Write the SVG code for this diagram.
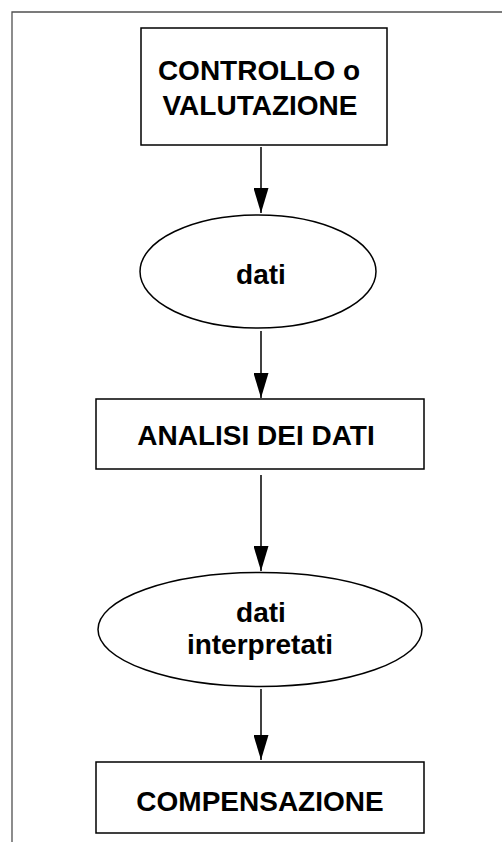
<svg xmlns="http://www.w3.org/2000/svg" width="502" height="842" viewBox="0 0 502 842">
  <style>
    .box { fill: #ffffff; stroke: #000000; stroke-width: 1.5; }
    .lbl { font-family: "Liberation Sans", Arial, sans-serif; font-weight: bold; font-size: 28px; fill: #000000; text-anchor: middle; }
    .conn { stroke: #000000; stroke-width: 1.5; fill: none; marker-end: url(#arrow); }
    .frame { stroke: #505050; stroke-width: 1.3; fill: none; }
  </style>
  <defs>
    <marker id="arrow" viewBox="0 0 25 15" markerWidth="25" markerHeight="15" refX="25" refY="7.5" orient="auto" markerUnits="userSpaceOnUse">
      <path d="M0,0 L25,7.5 L0,15 Z" fill="#000000"/>
    </marker>
  </defs>
  <rect x="0" y="0" width="502" height="842" fill="#ffffff"/>
  <path class="frame" d="M12,842 V12 H502"/>

  <g id="controllo">
    <rect class="box" x="141" y="28" width="246" height="117"/>
    <text class="lbl" x="259" y="80">CONTROLLO o</text>
    <text class="lbl" x="260" y="115">VALUTAZIONE</text>
  </g>

  <g id="dati">
    <ellipse class="box" cx="258" cy="271.5" rx="118" ry="56.5"/>
    <text class="lbl" x="261" y="284">dati</text>
  </g>

  <g id="analisi">
    <rect class="box" x="96" y="399" width="328" height="70"/>
    <text class="lbl" x="256" y="445">ANALISI DEI DATI</text>
  </g>

  <g id="dati-interpretati">
    <ellipse class="box" cx="260" cy="629.5" rx="162" ry="57"/>
    <text class="lbl" x="261" y="622">dati</text>
    <text class="lbl" x="260" y="654">interpretati</text>
  </g>

  <g id="compensazione">
    <rect class="box" x="96" y="762" width="328" height="71"/>
    <text class="lbl" x="260" y="811">COMPENSAZIONE</text>
  </g>

  <g id="connectors">
    <line class="conn" x1="261" y1="147" x2="261" y2="213"/>
    <line class="conn" x1="261" y1="331" x2="261" y2="398"/>
    <line class="conn" x1="261" y1="475" x2="261" y2="571"/>
    <line class="conn" x1="261" y1="689" x2="261" y2="760"/>
  </g>
</svg>
